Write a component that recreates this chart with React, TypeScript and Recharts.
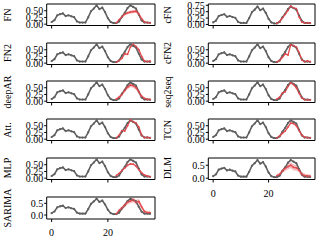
import { ComposedChart, Line, Area, XAxis, YAxis, ReferenceArea } from 'recharts'

// time steps and the observed series (gray)
const steps = [
  0, 1, 2, 3, 4, 5, 6, 7, 8, 9, 10, 11, 12, 13, 14, 15, 16, 17,
  18, 19, 20, 21, 22, 23, 24, 25, 26, 27, 28, 29, 30, 31, 32, 33, 34, 35
]
const observed = [
  0.08, 0.15, 0.33, 0.37, 0.40, 0.30, 0.33, 0.29, 0.26, 0.10, 0.06, 0.06,
  0.06, 0.25, 0.48, 0.58, 0.70, 0.56, 0.62, 0.45, 0.22, 0.08, 0.04, 0.04,
  0.10, 0.28, 0.42, 0.60, 0.70, 0.64, 0.58, 0.35, 0.14, 0.06, 0.06, 0.05
]
const FORECAST_FROM = 23

// forecasts from step 23 to 35 (red), spreads give the shaded band
const fnForecast = [0.05, 0.17, 0.27, 0.37, 0.42, 0.45, 0.47, 0.48, 0.38, 0.20, 0.08, 0.06, 0.05]
const fnSpread = [0.02, 0.03, 0.04, 0.05, 0.05, 0.06, 0.06, 0.06, 0.05, 0.04, 0.03, 0.02, 0.02]
const cfnForecast = [0.05, 0.12, 0.25, 0.40, 0.55, 0.72, 0.65, 0.62, 0.30, 0.10, 0.06, 0.06, 0.05]
const fn2Forecast = [0.04, 0.10, 0.18, 0.35, 0.33, 0.60, 0.70, 0.62, 0.50, 0.25, 0.08, 0.06, 0.08]
const cfn2Forecast = [0.05, 0.10, 0.22, 0.35, 0.30, 0.68, 0.65, 0.60, 0.40, 0.12, 0.05, 0.08, 0.06]
const deepArForecast = [0.08, 0.15, 0.25, 0.40, 0.52, 0.60, 0.58, 0.50, 0.35, 0.18, 0.10, 0.07, 0.07]
const deepArSpread = [0.04, 0.05, 0.06, 0.07, 0.08, 0.08, 0.08, 0.08, 0.07, 0.06, 0.05, 0.04, 0.04]
const seq2seqForecast = [0.08, 0.15, 0.30, 0.35, 0.55, 0.68, 0.62, 0.50, 0.30, 0.12, 0.06, 0.05, 0.05]
const attForecast = [0.05, 0.15, 0.32, 0.30, 0.50, 0.72, 0.65, 0.60, 0.45, 0.15, 0.06, 0.07, 0.05]
const tcnForecast = [0.05, 0.12, 0.22, 0.30, 0.45, 0.60, 0.58, 0.50, 0.32, 0.15, 0.08, 0.06, 0.05]
const mlpForecast = [0.10, 0.18, 0.28, 0.38, 0.48, 0.53, 0.52, 0.45, 0.32, 0.20, 0.12, 0.08, 0.06]
const mlpSpread = [0.01, 0.01, 0.02, 0.02, 0.02, 0.02, 0.02, 0.02, 0.02, 0.02, 0.01, 0.01, 0.01]
const dlmForecast = [0.10, 0.15, 0.28, 0.38, 0.45, 0.50, 0.42, 0.40, 0.32, 0.15, 0.10, 0.08, 0.08]
const dlmSpread = [0.06, 0.07, 0.08, 0.10, 0.11, 0.12, 0.12, 0.11, 0.10, 0.09, 0.08, 0.07, 0.07]
const sarimaForecast = [0.05, 0.20, 0.30, 0.42, 0.55, 0.60, 0.65, 0.55, 0.58, 0.35, 0.15, 0.10, 0.10]
const sarimaSpread = [0.05, 0.07, 0.08, 0.09, 0.10, 0.10, 0.10, 0.10, 0.10, 0.09, 0.08, 0.07, 0.07]

const xTicks = [0, 20]
const yTicksFine = [0, 0.25, 0.5]
const yTicksCfn = [0, 0.25, 0.5, 0.75]
const yTicksCoarse = [0, 0.5]

const GRAY = '#5f5f5f'
const RED = '#e5484d'
const FONT = "'Liberation Serif', 'DejaVu Serif', serif"
const X_DOMAIN = [-1.75, 36.75]

type PanelProps = {
  name: string
  forecast: number[]
  spread?: number[]
  domain: number[]
  yTicks: number[]
  digits: number
  xLabels?: boolean
  left: number
  top: number
  axisWidth: number
  boxHeight?: number
}

function Panel({ name, forecast, spread, domain, yTicks, digits, xLabels, left, top, axisWidth, boxHeight = 21.5 }: PanelProps) {
  const data = steps.map((x, i) => {
    const k = i - FORECAST_FROM
    const f = k >= 0 ? forecast[k] : null
    const s = spread && k >= 0 ? spread[k] : null
    return {
      x,
      obs: observed[i],
      pred: f,
      band: f != null && s != null ? [f - s, f + s] : null
    }
  })
  const xHeight = xLabels ? 22 : 4
  const tickFont = { fontSize: 10, fill: '#000', fontFamily: FONT }

  return (
    <div style={{ position: 'absolute', left, top: top - 2 }}>
      <ComposedChart
        width={160}
        height={2 + boxHeight + xHeight}
        data={data}
        margin={{ top: 2, right: 5, bottom: 0, left: 0 }}
      >
        <XAxis
          dataKey="x"
          type="number"
          domain={X_DOMAIN}
          ticks={xTicks}
          interval={0}
          allowDataOverflow
          axisLine={false}
          tickLine={{ stroke: '#000' }}
          tickSize={3}
          tickMargin={7}
          height={xHeight}
          tick={tickFont}
          tickFormatter={(v: number) => (xLabels ? String(v) : '')}
        />
        <YAxis
          type="number"
          domain={domain}
          ticks={yTicks}
          interval={0}
          allowDataOverflow
          width={axisWidth}
          axisLine={false}
          tickLine={{ stroke: '#000' }}
          tickSize={2.5}
          tickMargin={1}
          tick={tickFont}
          tickFormatter={(v: number) => v.toFixed(digits)}
        />
        <Line
          dataKey="obs"
          stroke={GRAY}
          strokeWidth={1.6}
          dot={{ r: 1.1, fill: GRAY, stroke: 'none' }}
          isAnimationActive={false}
        />
        {spread && (
          <Area
            dataKey="band"
            stroke="none"
            fill={RED}
            fillOpacity={0.35}
            isAnimationActive={false}
          />
        )}
        <Line
          dataKey="pred"
          stroke={RED}
          strokeWidth={1.3}
          dot={{ r: 0.9, fill: RED, stroke: 'none' }}
          isAnimationActive={false}
        />
        <ReferenceArea
          x1={X_DOMAIN[0]}
          x2={X_DOMAIN[1]}
          y1={domain[0]}
          y2={domain[1]}
          fill="none"
          stroke="#000"
          strokeWidth={1}
          ifOverflow="visible"
        />
      </ComposedChart>
      <div
        style={{
          position: 'absolute',
          left: 8,
          top: 2 + boxHeight / 2,
          transform: 'translate(-50%, -50%) rotate(-90deg)',
          fontFamily: FONT,
          fontSize: 10,
          lineHeight: 1,
          whiteSpace: 'nowrap',
          color: '#000'
        }}
      >
        {name}
      </div>
    </div>
  )
}

const FINE = [-0.05, 0.75]

export default function App() {
  return (
    <div style={{ position: 'absolute', left: 0, top: 0, width: 320, height: 240, background: '#fff' }}>
      {/* left column */}
      <Panel name="FN" forecast={fnForecast} spread={fnSpread} domain={FINE} yTicks={yTicksFine} digits={2} left={0} top={4} axisWidth={46.7} />
      <Panel name="FN2" forecast={fn2Forecast} domain={FINE} yTicks={yTicksFine} digits={2} left={0} top={42.5} axisWidth={46.7} />
      <Panel name="deepAR" forecast={deepArForecast} spread={deepArSpread} domain={FINE} yTicks={yTicksFine} digits={2} left={0} top={81} axisWidth={46.7} />
      <Panel name="Att." forecast={attForecast} domain={FINE} yTicks={yTicksFine} digits={2} left={0} top={119.4} axisWidth={46.7} />
      <Panel name="MLP" forecast={mlpForecast} spread={mlpSpread} domain={FINE} yTicks={yTicksFine} digits={2} left={0} top={157.7} axisWidth={46.7} />
      <Panel name="SARIMA" forecast={sarimaForecast} spread={sarimaSpread} domain={[-0.17, 0.77]} yTicks={yTicksCoarse} digits={1} xLabels left={0} top={197.3} axisWidth={46.7} boxHeight={22} />
      {/* right column */}
      <Panel name="cFN" forecast={cfnForecast} domain={[-0.04, 0.8]} yTicks={yTicksCfn} digits={2} left={160} top={4} axisWidth={48.3} />
      <Panel name="cFN2" forecast={cfn2Forecast} domain={FINE} yTicks={yTicksFine} digits={2} left={160} top={42.5} axisWidth={48.3} />
      <Panel name="seq2seq" forecast={seq2seqForecast} domain={FINE} yTicks={yTicksFine} digits={2} left={160} top={81} axisWidth={48.3} />
      <Panel name="TCN" forecast={tcnForecast} domain={FINE} yTicks={yTicksFine} digits={2} left={160} top={119.4} axisWidth={48.3} />
      <Panel name="DLM" forecast={dlmForecast} spread={dlmSpread} domain={[-0.05, 0.78]} yTicks={yTicksCoarse} digits={1} xLabels left={160} top={157.7} axisWidth={48.3} />
    </div>
  )
}
